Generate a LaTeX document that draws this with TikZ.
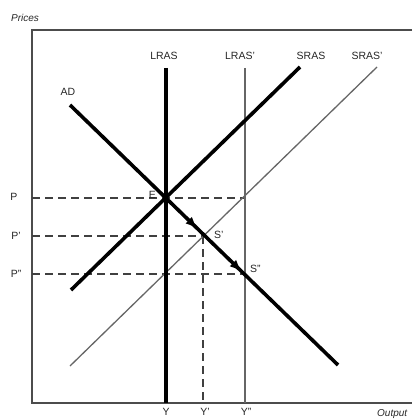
\documentclass[tikz,border=0pt]{standalone}
\usepackage{fontspec}
\setmainfont{Liberation Sans}
\usetikzlibrary{arrows.meta,decorations.markings}
\begin{document}
\begin{tikzpicture}[x=1pt,y=-1pt,
  thickline/.style={line width=3.6pt,black},
  thinline/.style={line width=1.3pt,black!60},
  frameline/.style={line width=1.5pt,black!70},
  dashline/.style={line width=1.4pt,black!75,dash pattern=on 8pt off 5pt},
  lbl/.style={font=\fontsize{10.5}{11}\selectfont,text=black!85,inner sep=0pt},
  axlbl/.style={font=\fontsize{10}{11}\selectfont\itshape,text=black!85,inner sep=0pt},
  adarrows/.style={postaction={decorate},decoration={markings,
    mark=at position 0.47 with {\arrow{Triangle[length=10pt,width=8pt]}},
    mark=at position 0.635 with {\arrow{Triangle[length=10pt,width=8pt]}}}}]
\useasboundingbox (0,0) rectangle (412,419);
% frame
\draw[frameline] (412,30) -- (32,30) -- (32,403) -- (412,403);
% coordinates
\coordinate (E) at (166,198);
\coordinate (Sp) at (203,236);
\coordinate (Spp) at (245,274);
% dashed guides
\draw[dashline] (32,198) -- (245,198);
\draw[dashline] (32,236) -- (Sp);
\draw[dashline] (32,274) -- (Spp);
\draw[dashline] (Sp) -- (203,403);
% thin curves
\draw[thinline] (245,68) -- (245,403);
\draw[thinline] (377,67) -- (70,366);
% thick curves
\draw[thickline] (166,68) -- (166,403);
\draw[thickline] (300,67) -- (71,290);
\draw[thickline,adarrows] (70,105) -- (338,365);
% labels
\node[axlbl,anchor=west] (prices) at (11,18) {Prices};
\node[axlbl,anchor=west] (output) at (377,414) {Output};
\node[lbl] (lras) at (164,56) {LRAS};
\node[lbl] (lras2) at (240,56) {LRAS'};
\node[lbl] (sras) at (311,56) {SRAS};
\node[lbl] (sras2) at (367,56) {SRAS'};
\node[lbl] (ad) at (68,92) {AD};
\node[lbl] (p) at (14,197) {P};
\node[lbl] (p1) at (16,236) {P'};
\node[lbl] (p2) at (16,274) {P''};
\node[lbl,anchor=east] (e) at (156,195) {E};
\node[lbl,anchor=west] (s1) at (214,235) {S'};
\node[lbl,anchor=west] (s2) at (250,269) {S''};
\node[lbl] (y) at (166,412) {Y};
\node[lbl] (y1) at (205,412) {Y'};
\node[lbl] (y2) at (246,412) {Y''};
\end{tikzpicture}
\end{document}
